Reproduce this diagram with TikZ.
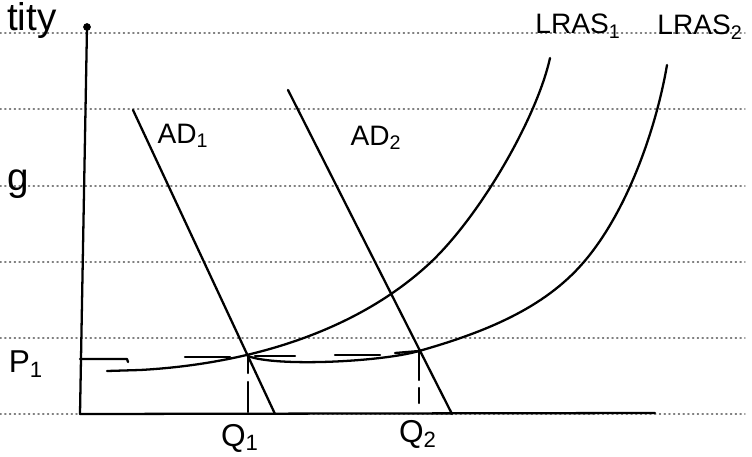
\documentclass[tikz,border=0pt]{standalone}
\usepackage{fontspec}
\setmainfont{Liberation Sans}
\usepackage{tikz}

\begin{document}
\begin{tikzpicture}[x=0.02cm,y=-0.02cm,line cap=round,line join=round,
  curve/.style={line width=1.3pt},
  guide/.style={dotted,gray,line width=0.7pt},
  lbl/.style={font=\fontsize{16}{18}\selectfont},
  big/.style={font=\fontsize{18}{20}\selectfont}]
 \useasboundingbox (0,0) rectangle (752,457);
 \clip (0,0) rectangle (752,457);

 \coordinate (O) at (80,414); % 原点
 \coordinate (YL) at (87,27); % y軸最大
 \coordinate (XL) at (655,413); % x軸最大
 \coordinate (E1) at (248,356); % 交点1
 \coordinate (E2) at (419,351); % 交点2

 % ノートの罫線
 \draw[guide] (0,33) -- (745,33);
 \draw[guide] (0,109) -- (745,109);
 \draw[guide] (0,186) -- (745,186);
 \draw[guide] (0,262) -- (745,262);
 \draw[guide] (0,338) -- (745,338);
 \draw[guide] (0,414) -- (745,414);

 \draw[curve] (O) -- (YL); % y軸
 \draw[curve] (O) -- (XL); % x軸
 \fill (YL) circle (2.2pt); % 軸の先

 \draw[curve] (133,110) -- (275,414); % AD1
 \draw[curve] (288,90) -- (452,414); % AD2

 \draw[curve] (107,371) -- (140,370) .. controls (250,364) and (357,331) .. (430,263)
   .. controls (481,215) and (537,117) .. (550,58); % LRAS1
 \draw[curve] (E1) .. controls (275,367) and (381,362) .. (E2)
   .. controls (486,332) and (544,308) .. (583,263)
   .. controls (629,210) and (657,124) .. (667,65); % LRAS2

 % 点線
 \draw[curve] (80,359) -- (127,359) -- (128,362);
 \draw[curve] (185,357) -- (230,357);
 \draw[curve] (255,356) -- (295,356);
 \draw[curve] (335,355) -- (380,355);
 \draw[curve] (395,353) -- (E2);
 \draw[curve] (E1) -- (248,373);
 \draw[curve] (248,382) -- (248,412);
 \draw[curve] (E2) -- (419,380);
 \draw[curve] (419,388) -- (419,403);

 \node[lbl] (ad1) at (183,136) {AD\textsubscript{1}}; % ラベル
 \node[lbl] (ad2) at (376,138) {AD\textsubscript{2}};
 \node[lbl] (lras1) at (578,26) {LRAS\textsubscript{1}};
 \node[lbl] (lras2) at (700,27) {LRAS\textsubscript{2}};
 \node[big] (p1) at (26,364) {P\textsubscript{1}};
 \node[big] (q1) at (240,438) {Q\textsubscript{1}};
 \node[big] (q2) at (418,434) {Q\textsubscript{2}};
 \node[font=\fontsize{22}{24}\selectfont,anchor=base west] (ttl) at (1,30) {tity};
 \node[font=\fontsize{22}{24}\selectfont,anchor=base west] (gg) at (1,190) {g};
\end{tikzpicture}
\end{document}
